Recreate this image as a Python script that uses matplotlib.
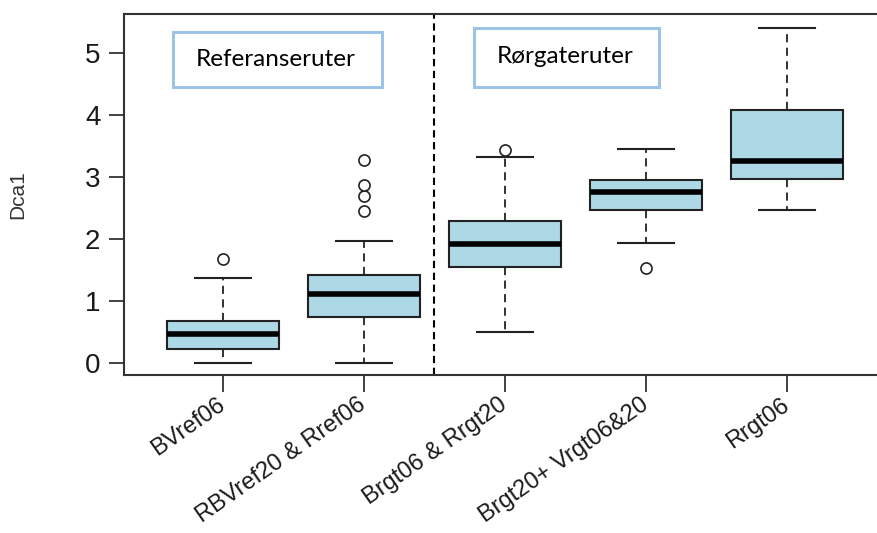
import matplotlib
matplotlib.use("Agg")
import matplotlib.pyplot as plt
from matplotlib.patches import Rectangle

# Route groups and their Dca1 box statistics
groups = ["BVref06", "RBVref20 & Rref06", "Brgt06 & Rrgt20",
          "Brgt20+ Vrgt06&20", "Rrgt06"]
whisker_low = [0.00, 0.00, 0.50, 1.94, 2.47]
q1 = [0.23, 0.74, 1.55, 2.47, 2.98]
median = [0.48, 1.12, 1.92, 2.76, 3.26]
q3 = [0.69, 1.42, 2.30, 2.96, 4.09]
whisker_high = [1.37, 1.97, 3.32, 3.46, 5.41]
outliers = [[1.69], [2.46, 2.70, 2.87, 3.28], [3.44], [1.54], []]
y_ticks = [0, 1, 2, 3, 4, 5]
section_labels = ["Referanseruter", "Rørgateruter"]

W, H = 877, 533
fig = plt.figure(figsize=(W / 100, H / 100), dpi=100)
fig.patch.set_facecolor("white")
ax_w = 885 - 124
ax = fig.add_axes([124 / W, 1 - 375 / H, ax_w / W, (375 - 14) / H])

stats = []
for i, g in enumerate(groups):
    stats.append(dict(label=g, whislo=whisker_low[i], q1=q1[i], med=median[i],
                      q3=q3[i], whishi=whisker_high[i], fliers=outliers[i]))

positions = list(range(1, len(groups) + 1))
ax.bxp(stats, positions=positions, widths=0.8, capwidths=0.4,
       showfliers=True, patch_artist=True,
       boxprops=dict(facecolor="#ADD8E6", edgecolor="#222222", linewidth=1.5),
       medianprops=dict(color="black", linewidth=4.0, solid_capstyle="butt"),
       whiskerprops=dict(color="#222222", linewidth=1.3, linestyle=(0, (4.5, 3))),
       capprops=dict(color="#222222", linewidth=1.5),
       flierprops=dict(marker="o", markersize=8, markerfacecolor="white",
                       markeredgecolor="#222222", markeredgewidth=1.2,
                       linestyle="none"))

ax.set_xlim(0.298, 5.695)
ax.set_ylim(-0.189, 5.634)

# Divider between reference routes and pipe-street routes
ax.axvline(2.5, color="black", linewidth=1.5, linestyle=(0, (3.5, 2.2)))

# Section captions in framed boxes
ax.add_patch(Rectangle((0.645, 4.456), 2.128 - 0.645, 5.344 - 4.456,
                       facecolor="white", edgecolor="#9DC3E6", linewidth=2.2,
                       zorder=5))
ax.text((0.645 + 2.128) / 2 - 0.015, 4.90, section_labels[0], ha="center",
        va="center", fontsize=17.5, family="Lato", color="black", zorder=6)
ax.add_patch(Rectangle((2.780, 4.456), 4.092 - 2.780, 5.408 - 4.456,
                       facecolor="white", edgecolor="#9DC3E6", linewidth=2.2,
                       zorder=5))
ax.text((2.780 + 4.092) / 2 - 0.01, 4.95, section_labels[1], ha="center",
        va="center", fontsize=17.5, family="Lato", color="black", zorder=6)

for side in ["left", "bottom", "top"]:
    ax.spines[side].set_color("#333333")
    ax.spines[side].set_linewidth(1.5)
ax.spines["right"].set_visible(False)

ax.set_yticks(y_ticks)
ax.set_yticklabels([str(t) for t in y_ticks], fontsize=20,
                   family="Liberation Sans", color="#1a1a1a")
ax.set_xticks(positions)
ax.set_xticklabels(groups, rotation=35, ha="right", va="center",
                   rotation_mode="anchor", fontsize=17,
                   family="Liberation Sans", color="#1a1a1a")
ax.tick_params(axis="y", length=11, width=1.3, color="#333333", pad=6)
ax.tick_params(axis="x", length=12, width=1.3, color="#333333", pad=8)

ax.set_ylabel("Dca1", fontsize=15, family="Liberation Sans", color="#333333",
              labelpad=0)
ax.yaxis.set_label_coords((27 - 124) / ax_w, 0.5)

fig.savefig("out.png", dpi=100, facecolor="white")
